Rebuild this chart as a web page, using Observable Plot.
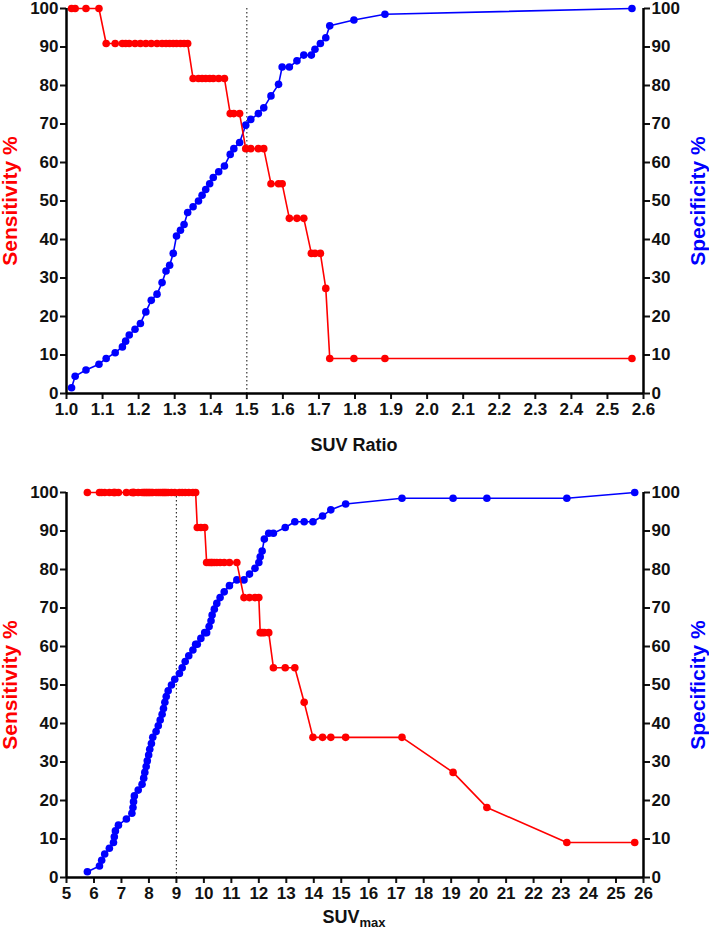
<!DOCTYPE html>
<html><head><meta charset="utf-8">
<script src="https://cdn.jsdelivr.net/npm/d3@7"></script>
<script src="https://cdn.jsdelivr.net/npm/@observablehq/plot@0.6"></script>
<style>body{margin:0;background:#fff;} #chart svg{display:block;}</style>
</head><body><div id="chart"></div>
<script>
// Panel 1: SUV Ratio
const ratioThr = [1.014,1.024,1.054,1.090,1.110,1.135,1.155,1.164,1.174,1.190,1.205,1.220,1.235,1.251,1.265,1.276,1.286,1.296,1.305,1.316,1.326,1.336,1.351,1.366,1.376,1.386,1.397,1.407,1.422,1.438,1.454,1.464,1.480,1.497,1.511,1.532,1.547,1.567,1.588,1.598,1.618,1.639,1.658,1.679,1.689,1.704,1.719,1.730,1.797,1.883,2.568];
const ratioSens = [100,100,100,100,
  90.9,90.9,90.9,90.9,90.9,90.9,90.9,90.9,90.9,90.9,90.9,90.9,90.9,90.9,90.9,90.9,90.9,90.9,
  81.8,81.8,81.8,81.8,81.8,81.8,81.8,81.8,
  72.7,72.7,72.7,
  63.6,63.6,63.6,63.6,
  54.5,54.5,54.5,
  45.5,45.5,45.5,
  36.4,36.4,36.4,
  27.3,
  9.1,9.1,9.1,9.1];
const ratioSpec = [1.5,4.5,6.1,7.6,9.1,10.6,12.1,13.6,15.2,16.7,18.2,21.2,24.2,25.8,28.8,31.8,33.3,36.4,40.9,42.4,43.9,47.0,48.5,50.0,51.5,53.0,54.5,56.1,57.6,59.1,62.1,63.6,65.2,69.7,71.2,72.7,74.2,77.3,80.3,84.8,84.8,86.4,87.9,87.9,89.4,90.9,92.4,95.5,97.0,98.5,100];
const ratioTicks = [1.0,1.1,1.2,1.3,1.4,1.5,1.6,1.7,1.8,1.9,2.0,2.1,2.2,2.3,2.4,2.5,2.6];
const ratioCut = 1.5;

// Panel 2: SUVmax
const suvThr = [5.76,6.20,6.28,6.39,6.56,6.71,6.74,6.78,6.89,7.18,7.38,7.42,7.44,7.47,7.61,7.75,7.81,7.85,7.90,7.94,7.99,8.03,8.09,8.14,8.26,8.34,8.41,8.48,8.53,8.58,8.63,8.70,8.82,8.94,9.11,9.21,9.32,9.45,9.60,9.70,9.76,9.89,10.03,10.10,10.19,10.26,10.30,10.38,10.47,10.59,10.74,10.93,11.20,11.46,11.66,11.86,12.00,12.05,12.12,12.20,12.36,12.53,12.96,13.31,13.65,13.97,14.32,14.62,15.16,17.21,19.07,20.30,23.21,25.68];
const suvSens = [100,100,100,100,100,100,100,100,100,100,100,100,100,100,100,100,100,100,100,100,
  100,100,100,100,100,100,100,100,100,100,100,100,100,100,100,100,100,100,100,100,
  90.9,90.9,90.9,
  81.8,81.8,81.8,81.8,81.8,81.8,81.8,81.8,81.8,81.8,
  72.7,72.7,72.7,72.7,
  63.6,63.6,63.6,63.6,
  54.5,54.5,54.5,
  45.5,
  36.4,36.4,36.4,36.4,36.4,
  27.3,
  18.2,
  9.1,9.1];
const suvSpec = [1.5,3.0,4.5,6.1,7.6,9.1,10.6,12.1,13.6,15.2,
  16.7,18.2,19.7,21.2,22.7,24.2,25.8,27.3,28.8,30.3,
  31.8,33.3,34.8,36.4,37.9,39.4,40.9,42.4,43.9,45.5,
  47.0,48.5,50.0,51.5,53.0,54.5,56.1,57.6,59.1,60.6,
  60.6,62.1,63.6,63.6,65.2,66.7,68.2,69.7,71.2,72.7,
  74.2,75.8,77.3,77.3,78.8,80.3,81.8,83.3,84.8,87.9,
  89.4,89.4,90.9,92.4,92.4,92.4,93.9,95.5,97.0,98.5,
  98.5,98.5,98.5,100];
const suvTicks = [5,6,7,8,9,10,11,12,13,14,15,16,17,18,19,20,21,22,23,24,25,26];
const suvCut = 9;

const pctTicks = [0,10,20,30,40,50,60,70,80,90,100];
const sensLabel = "Sensitivity %";
const specLabel = "Specificity %";

const RED = "#ff0000", BLUE = "#0000ff";
const FONT = '"Liberation Sans", Arial, Helvetica, sans-serif';

function panel({thr, sens, spec, xDomain, xTicks, xFmt, cut, height, mt, mb}) {
  const rows = thr.map((t, i) => ({t, sens: sens[i], spec: spec[i]}));
  return Plot.plot({
    width: 709, height,
    marginLeft: 66, marginRight: 66, marginTop: mt, marginBottom: mb,
    style: {fontFamily: FONT, fontWeight: "bold", fontSize: "17px", color: "#111", background: "#fff", overflow: "visible"},
    x: {domain: xDomain},
    y: {domain: [0, 100]},
    marks: [
      Plot.axisX({ticks: xTicks, tickFormat: xFmt, tickSize: 6, strokeWidth: 2, tickPadding: 3, label: null, fill: "#111"}),
      Plot.axisY({anchor: "left", ticks: pctTicks, tickSize: 6, strokeWidth: 2, tickPadding: 2, label: null, fill: "#111"}),
      Plot.axisY({anchor: "right", ticks: pctTicks, tickSize: 6, strokeWidth: 2, tickPadding: 2, label: null, fill: "#111"}),
      Plot.ruleX([cut], {stroke: "#333", strokeWidth: 1.2, strokeDasharray: "1.5,2.5"}),
      Plot.line(rows, {x: "t", y: "spec", stroke: BLUE, strokeWidth: 1.6}),
      Plot.dot(rows, {x: "t", y: "spec", fill: BLUE, r: 3.8}),
      Plot.line(rows, {x: "t", y: "sens", stroke: RED, strokeWidth: 1.6}),
      Plot.dot(rows, {x: "t", y: "sens", fill: RED, r: 3.8}),
      Plot.ruleX([xDomain[0], xDomain[1]], {stroke: "#000", strokeWidth: 2.5}),
      Plot.ruleY([0], {stroke: "#000", strokeWidth: 2.5}),
      Plot.text([sensLabel], {text: d => d, frameAnchor: "left", textAnchor: "middle", dx: -56, rotate: -90, fill: RED, fontSize: 21, fontWeight: "bold"}),
      Plot.text([specLabel], {text: d => d, frameAnchor: "right", textAnchor: "middle", dx: 55, rotate: -90, fill: BLUE, fontSize: 21, fontWeight: "bold"})
    ]
  });
}

const chart = document.getElementById("chart");

const p1 = panel({thr: ratioThr, sens: ratioSens, spec: ratioSpec, xDomain: [1.0, 2.6], xTicks: ratioTicks,
  xFmt: d3.format(".1f"), cut: ratioCut, height: 465, mt: 8, mb: 72});
d3.select(p1).append("text")
  .attr("x", 354).attr("y", 451).attr("text-anchor", "middle")
  .attr("font-size", 18).attr("font-weight", "bold").attr("fill", "#111")
  .text("SUV Ratio");
chart.appendChild(p1);

const p2 = panel({thr: suvThr, sens: suvSens, spec: suvSpec, xDomain: [5, 26], xTicks: suvTicks,
  xFmt: d3.format("d"), cut: suvCut, height: 468, mt: 27, mb: 56});
const lab = d3.select(p2).append("text")
  .attr("x", 354).attr("y", 458).attr("text-anchor", "middle")
  .attr("font-size", 18).attr("font-weight", "bold").attr("fill", "#111");
lab.append("tspan").text("SUV");
lab.append("tspan").attr("font-size", 13).attr("dy", 4).text("max");
chart.appendChild(p2);
</script>
</body></html>
